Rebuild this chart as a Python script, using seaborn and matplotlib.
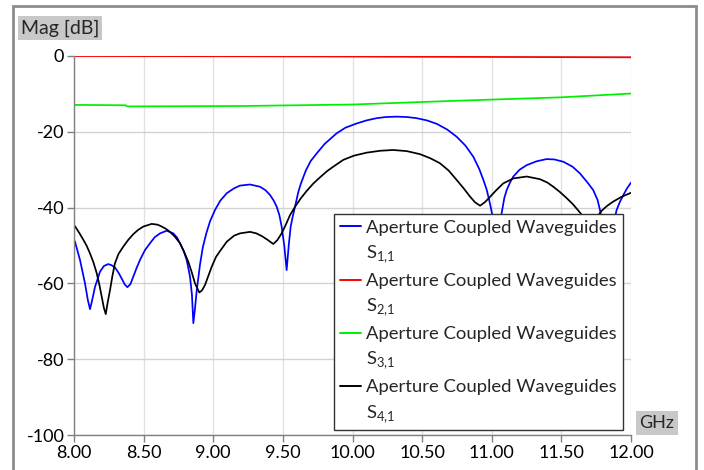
import numpy as np
import pandas as pd
import seaborn as sns
import matplotlib
matplotlib.use("Agg")
import matplotlib.pyplot as plt
from matplotlib.patches import Rectangle
from matplotlib.lines import Line2D

# Frequency sweep (GHz) and magnitude (dB) for each S-parameter
s11_f = [8.000, 8.007, 8.043, 8.079, 8.100, 8.115, 8.130, 8.151, 8.187, 8.215, 8.246, 8.270,
         8.294, 8.320, 8.342, 8.365, 8.383, 8.405, 8.426, 8.450, 8.474, 8.510, 8.546, 8.580,
         8.618, 8.666, 8.713, 8.740, 8.761, 8.787, 8.809, 8.833, 8.847, 8.857, 8.868, 8.881,
         8.905, 8.925, 8.950, 8.977, 9.013, 9.050, 9.097, 9.150, 9.192, 9.264, 9.336, 9.375,
         9.408, 9.435, 9.456, 9.475, 9.491, 9.510, 9.527, 9.542, 9.556, 9.570, 9.587, 9.610,
         9.630, 9.665, 9.700, 9.743, 9.800, 9.886, 9.950, 10.030, 10.100, 10.174, 10.240,
         10.317, 10.390, 10.460, 10.535, 10.605, 10.680, 10.748, 10.810, 10.868, 10.910,
         10.940, 10.964, 10.987, 11.007, 11.025, 11.040, 11.055, 11.071, 11.090, 11.107,
         11.131, 11.155, 11.200, 11.251, 11.320, 11.394, 11.450, 11.514, 11.580, 11.634,
         11.690, 11.729, 11.760, 11.777, 11.800, 11.830, 11.860, 11.885, 11.897, 11.920,
         11.945, 11.970, 12.000]
s11_db = [-48.5, -49.0, -53.8, -60.0, -64.5, -66.8, -64.5, -60.9, -56.9, -55.4, -54.9, -55.2,
          -55.8, -57.2, -58.7, -60.3, -61.0, -60.2, -58.2, -55.9, -53.8, -51.2, -49.4, -47.8,
          -46.8, -46.1, -46.8, -47.9, -49.4, -51.4, -53.8, -58.2, -63.0, -70.5, -67.0, -62.0,
          -55.0, -50.5, -46.8, -43.6, -40.6, -38.2, -36.2, -34.9, -34.2, -33.9, -34.5, -35.4,
          -36.7, -38.2, -39.8, -42.0, -45.0, -50.0, -56.5, -50.0, -45.0, -42.5, -39.8, -36.0,
          -33.6, -30.2, -27.7, -25.7, -23.2, -20.4, -18.9, -17.8, -17.0, -16.4, -16.1,
          -16.0, -16.1, -16.4, -17.0, -17.9, -19.4, -21.3, -23.6, -26.6, -29.8,
          -32.7, -35.3, -38.9, -42.5, -48.0, -55.0, -47.0, -41.5, -37.5, -35.4,
          -33.4, -31.8, -30.0, -28.8, -27.8, -27.2, -27.3, -27.9, -29.2, -31.0,
          -33.5, -35.4, -38.0, -40.6, -45.0, -52.0, -47.0, -42.5, -40.6, -38.5,
          -36.7, -35.0, -33.4]

s21_f = [8.00, 9.00, 9.70, 10.50, 11.00, 11.50, 12.00]
s21_db = [0.0, -0.05, -0.1, -0.2, -0.25, -0.3, -0.35]

s31_f = [8.00, 8.37, 8.38, 9.19, 9.60, 10.00, 10.30, 10.60, 11.00, 11.50, 12.00]
s31_db = [-12.9, -13.0, -13.3, -13.2, -13.0, -12.8, -12.4, -12.0, -11.5, -10.9, -9.9]

s41_f = [8.000, 8.007, 8.040, 8.067, 8.090, 8.115, 8.140, 8.163, 8.183, 8.199, 8.215, 8.228,
         8.242, 8.259, 8.276, 8.294, 8.320, 8.354, 8.390, 8.426, 8.460, 8.498, 8.558, 8.600,
         8.630, 8.660, 8.689, 8.725, 8.761, 8.790, 8.821, 8.845, 8.869, 8.900, 8.920, 8.941,
         8.965, 8.989, 9.020, 9.048, 9.097, 9.150, 9.192, 9.264, 9.310, 9.348, 9.390, 9.431,
         9.460, 9.491, 9.520, 9.551, 9.587, 9.630, 9.671, 9.720, 9.767, 9.820, 9.870, 9.934,
         10.010, 10.102, 10.200, 10.293, 10.390, 10.485, 10.560, 10.628, 10.690, 10.748,
         10.800, 10.844, 10.880, 10.916, 10.950, 10.987, 11.030, 11.083, 11.155, 11.251,
         11.346, 11.400, 11.442, 11.490, 11.538, 11.580, 11.622, 11.660, 11.700, 11.745,
         11.790, 11.830, 11.873, 11.930, 11.993, 12.000]
s41_db = [-44.8, -44.9, -46.8, -48.5, -50.0, -52.1, -54.5, -57.3, -60.5, -63.5, -66.5, -68.1,
          -65.0, -61.7, -58.0, -54.7, -52.2, -50.3, -48.5, -47.0, -45.9, -45.0, -44.3, -44.5,
          -45.0, -45.6, -46.4, -47.7, -49.4, -51.6, -54.3, -57.0, -60.0, -62.4, -61.8, -60.4,
          -58.0, -55.6, -53.0, -51.5, -49.0, -47.4, -46.8, -46.4, -46.8, -47.5, -48.5, -49.6,
          -48.6, -46.8, -44.6, -42.0, -39.8, -37.5, -35.6, -33.6, -32.0, -30.3, -29.0, -27.4,
          -26.3, -25.5, -25.0, -24.8, -25.1, -25.9, -27.0, -28.3, -30.2, -32.7,
          -35.0, -37.1, -38.6, -39.5, -38.6, -37.2, -35.5, -33.6, -32.3, -31.8,
          -32.5, -33.4, -34.5, -35.9, -37.5, -39.0, -40.8, -42.5, -43.8, -43.0,
          -40.8, -39.5, -38.4, -37.2, -36.2, -36.1]

series_name = "Aperture Coupled Waveguides"
series_subs = ["S$_{\\mathregular{1{,}1}}$", "S$_{\\mathregular{2{,}1}}$",
               "S$_{\\mathregular{3{,}1}}$", "S$_{\\mathregular{4{,}1}}$"]
series_colors = ["#0000ff", "#ff0000", "#00ee00", "#000000"]

x_ticks = [8.0, 8.5, 9.0, 9.5, 10.0, 10.5, 11.0, 11.5, 12.0]
y_ticks = [-100, -80, -60, -40, -20, 0]

sns.set_theme(style="white")
plt.rcParams["font.family"] = ["Lato", "DejaVu Sans"]
plt.rcParams["mathtext.fontset"] = "custom"
plt.rcParams["mathtext.rm"] = "Lato"
plt.rcParams["axes.unicode_minus"] = False

fig = plt.figure(figsize=(7.04, 4.70), dpi=100)
ax = fig.add_axes([74 / 704, 1 - 435 / 470, 557 / 704, 379 / 470])

data = [(s11_f, s11_db), (s21_f, s21_db), (s31_f, s31_db), (s41_f, s41_db)]
handles, labels = [], []
for (f, db), sub, col in zip(data, series_subs, series_colors):
    sns.lineplot(x=f, y=db, ax=ax, color=col, linewidth=1.25,
                 sort=False, estimator=None)
    handles += [ax.lines[-1], Line2D([], [], color="none")]
    labels += [series_name, sub]

ax.set_xlim(8.0, 12.0)
ax.set_ylim(-100, 0)
ax.set_xticks(x_ticks)
ax.set_xticklabels([f"{v:.2f}" for v in x_ticks])
ax.set_yticks(y_ticks)
ax.set_yticklabels([str(v) for v in y_ticks])
ax.xaxis.grid(True, color="#e2e2e2", linewidth=1.0)
ax.yaxis.grid(True, color="#d2d2d2", linewidth=1.0)
ax.set_axisbelow(True)
for s in ["top", "right"]:
    ax.spines[s].set_visible(False)
for s in ["left", "bottom"]:
    ax.spines[s].set_color("#808080")
    ax.spines[s].set_linewidth(1.0)
ax.tick_params(axis="both", which="both", direction="out", length=5, width=1,
               color="#808080", labelsize=13, labelcolor="#000000", pad=2,
               left=True, bottom=True)
ax.set_xlabel("")
ax.set_ylabel("")

leg = ax.legend(handles, labels, loc="lower left", bbox_to_anchor=(0.467, 0.013),
                frameon=True, fancybox=False, framealpha=1, edgecolor="#333333",
                fontsize=13.3, handlelength=1.15, handletextpad=0.3, labelspacing=0.42,
                borderpad=0.3, borderaxespad=0)
leg.get_frame().set_linewidth(1.0)
for line in leg.get_lines():
    line.set_linewidth(1.4)

# Axis captions in shaded boxes
fig.text(21 / 704, 1 - 28 / 470, "Mag [dB]", fontsize=14, va="center", ha="left",
         bbox=dict(boxstyle="square,pad=0.15", facecolor="#c8c8c8", edgecolor="none"))
fig.text(657 / 704, 1 - 423 / 470, "GHz", fontsize=13, va="center", ha="center",
         bbox=dict(boxstyle="square,pad=0.2", facecolor="#c8c8c8", edgecolor="none"))

# Outer frame of the plot panel
fig.patches.append(Rectangle((13 / 704, -0.05), (696 - 13) / 704, 1 - 6 / 470 + 0.05,
                             transform=fig.transFigure, fill=False,
                             edgecolor="#8c8c8c", linewidth=2))

fig.savefig("out.png", dpi=100)
